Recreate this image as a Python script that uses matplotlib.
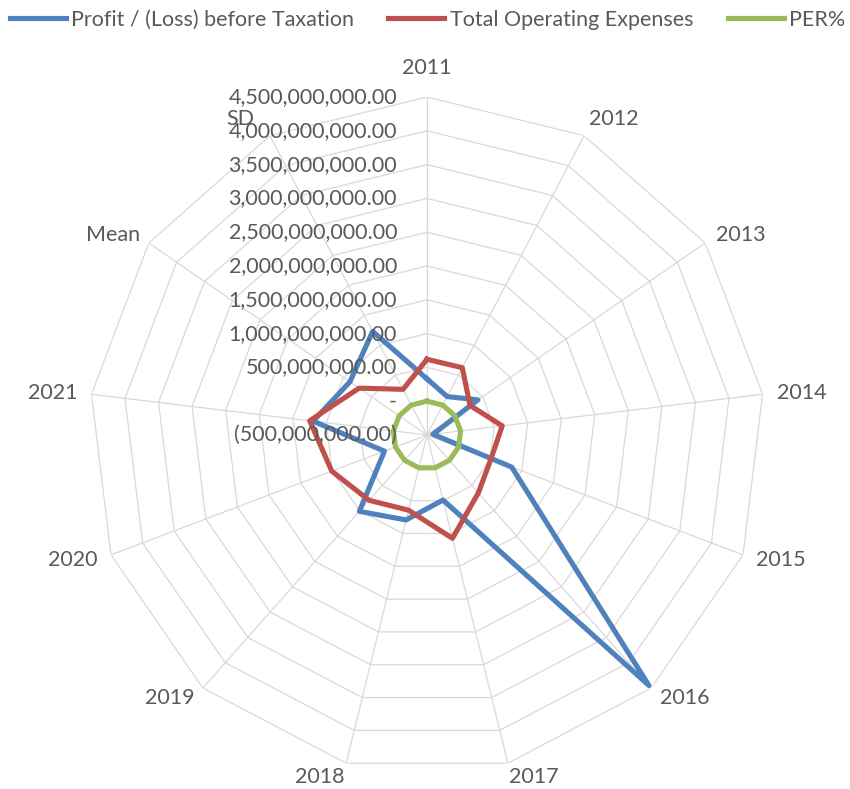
import numpy as np
import matplotlib
matplotlib.use("Agg")
import matplotlib.pyplot as plt

plt.rcParams["font.family"] = ["Lato", "DejaVu Sans"]

categories = ["2011", "2012", "2013", "2014", "2015", "2016", "2017",
              "2018", "2019", "2020", "2021", "Mean", "SD"]
profit = [330e6, 142e6, 415e6, -411e6, 840e6, 4450e6, 491e6,
          794e6, 1009e6, 173e6, 1198e6, 885e6, 1230e6]
expenses = [620e6, 624e6, 272e6, 621e6, 510e6, 645e6, 1074e6,
            645e6, 791e6, 1007e6, 1248e6, 720e6, 263e6]
per_pct = [0.53, 0.23, 1.53, -0.66, 1.65, 6.9, 0.46,
           1.23, 1.28, 0.17, 0.96, 1.3, 1.9]
levels = [-500e6, 0, 500e6, 1000e6, 1500e6, 2000e6, 2500e6,
          3000e6, 3500e6, 4000e6, 4500e6]

TXT = "#595959"
GRID = "#d9d9d9"
FS = 15.5

n = len(categories)
theta = np.arange(n) * 2 * np.pi / n
closed = np.append(theta, theta[0])


def close(vals):
    return list(vals) + [vals[0]]


def fmt(v):
    if v == 0:
        return "-"
    if v < 0:
        return "({:,.2f})".format(-v)
    return "{:,.2f}".format(v)


fig = plt.figure(figsize=(8.5, 7.89), dpi=100)
R_PX = 338  # outer ring radius in pixels
ax = fig.add_axes([(427 - R_PX) / 850, (789 - 435 - R_PX) / 789,
                   2 * R_PX / 850, 2 * R_PX / 789], projection="polar")
ax.set_theta_zero_location("N")
ax.set_theta_direction(-1)
ax.set_ylim(levels[0], levels[-1])
ax.grid(False)
ax.spines["polar"].set_visible(False)
ax.set_xticks([])
ax.set_yticks([])
ax.patch.set_alpha(0)

# polygon grid + spokes
for lv in levels[1:]:
    ax.plot(closed, [lv] * (n + 1), color=GRID, lw=0.9, zorder=1)
for t in theta:
    ax.plot([t, t], [levels[0], levels[-1]], color=GRID, lw=0.9, zorder=1)

ax.plot(closed, close(profit), color="#4F81BD", lw=3.7, zorder=3,
        label="Profit / (Loss) before Taxation")
ax.plot(closed, close(expenses), color="#C0504D", lw=3.7, zorder=3,
        label="Total Operating Expenses")
ax.plot(closed, close(per_pct), color="#9BBB59", lw=3.7, zorder=3,
        label="PER%")

# radial value labels along the top spoke
for lv in levels:
    ax.annotate(fmt(lv), xy=(0, lv), xytext=(-30, 0),
                textcoords="offset pixels", ha="right", va="center",
                fontsize=FS, color=TXT, zorder=4)

# category labels, offset from the centre in pixels (Excel-ish placement)
for t, c in zip(theta, categories):
    s, co = np.sin(t), np.cos(t)
    dx = 355 * s + (22 * np.sign(s) if abs(s) > 0.1 else 0)
    dy = 352 * co + 15 * max(co, 0) ** 10
    ax.annotate(c, xy=(0, levels[0]), xytext=(dx, dy),
                textcoords="offset pixels", ha="center", va="center",
                fontsize=FS, color=TXT, annotation_clip=False)

fig.legend(loc="center", bbox_to_anchor=(0.503, 1 - 20 / 789), ncol=3,
           frameon=False, fontsize=FS, handlelength=2.6, handletextpad=0.25,
           columnspacing=1.6, labelcolor=TXT, borderaxespad=0)

fig.savefig("out.png", dpi=100)
